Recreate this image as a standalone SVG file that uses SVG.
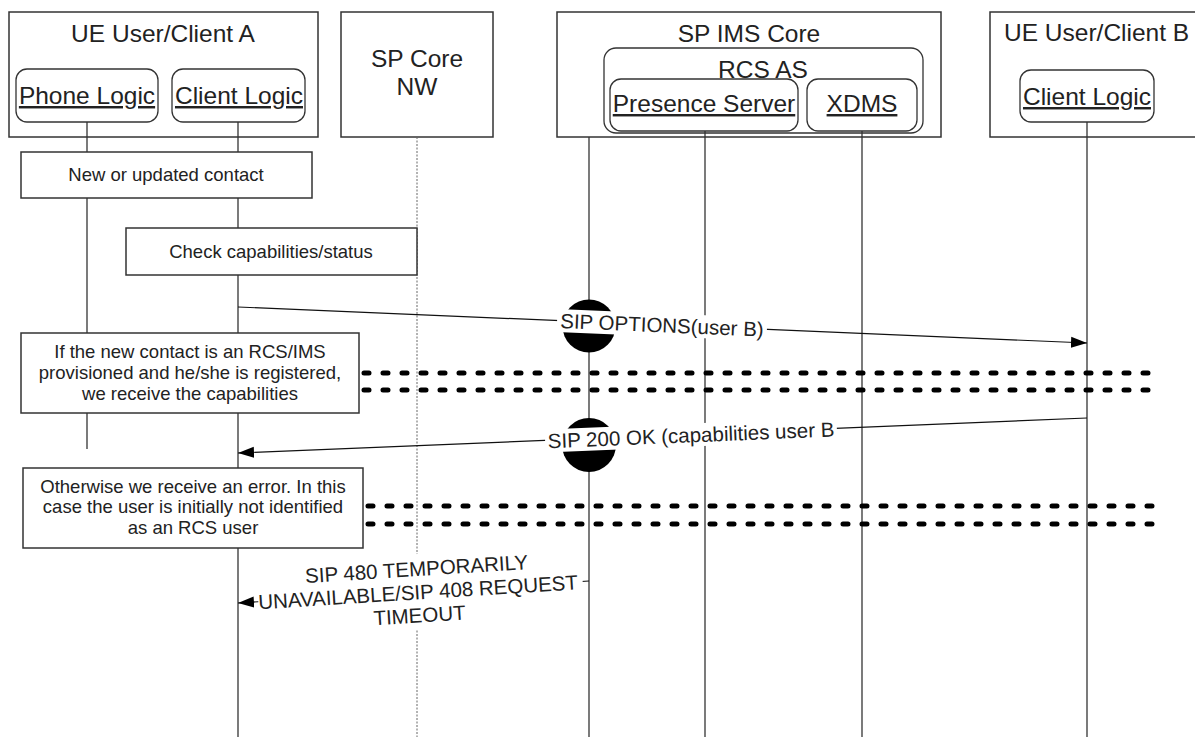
<svg xmlns="http://www.w3.org/2000/svg" width="1195" height="737" viewBox="0 0 1195 737">
<style>
text{font-family:"Liberation Sans",Arial,sans-serif;fill:#222}
.hd{font-size:24.5px;text-anchor:middle}
.ul{text-decoration:underline}
.bx{fill:#fff;stroke:#333;stroke-width:1.5}
.rr{fill:#fff;stroke:#333;stroke-width:1.3}
.ll{stroke:#333;stroke-width:1.3;fill:none}
.dl{stroke:#666;stroke-width:1;stroke-dasharray:2 1.5;fill:none}
.nt{font-size:18.5px;text-anchor:middle}
.hv{stroke:#000;stroke-width:5;stroke-linecap:round;stroke-dasharray:5 14;fill:none}
.msg{stroke:#111;stroke-width:1.2;fill:none}
.lbl{font-size:20.5px;text-anchor:middle}
.bg{fill:#fff;stroke:none}
</style>
<defs>
<marker id="ah" markerUnits="userSpaceOnUse" markerWidth="17" markerHeight="12" refX="16" refY="6" orient="auto"><path d="M0,0.5 L16,6 L0,11.5 z" fill="#000"/></marker>
</defs>

<g id="ue-a">
<rect class="bx" x="9" y="12" width="309" height="125"/>
<text class="hd" x="163" y="42">UE User/Client A</text>
<rect class="rr" x="16" y="69" width="142" height="53" rx="11"/>
<text class="hd ul" x="87" y="104">Phone Logic</text>
<rect class="rr" x="172" y="69" width="133" height="53" rx="11"/>
<text class="hd ul" x="239" y="104">Client Logic</text>
</g>

<g id="sp-core">
<rect class="bx" x="341" y="12" width="152" height="125"/>
<text class="hd" x="417" y="67">SP Core</text>
<text class="hd" x="417" y="95">NW</text>
</g>

<g id="sp-ims-core">
<rect class="bx" x="557" y="12" width="384" height="125"/>
<text class="hd" x="749" y="42">SP IMS Core</text>
<rect class="rr" x="604" y="48" width="319" height="85" rx="12"/>
<text class="hd" x="763" y="78">RCS AS</text>
<rect class="rr" x="610" y="79" width="188" height="52" rx="11"/>
<text class="hd ul" x="704" y="112">Presence Server</text>
<rect class="rr" x="807" y="79" width="110" height="52" rx="11"/>
<text class="hd ul" x="862" y="112">XDMS</text>
</g>

<g id="ue-b">
<rect class="bx" x="990" y="12" width="260" height="125"/>
<text class="hd" x="1004" y="41" style="text-anchor:start">UE User/Client B</text>
<rect class="rr" x="1020" y="70" width="134" height="52" rx="11"/>
<text class="hd ul" x="1087" y="105">Client Logic</text>
</g>

<g id="lifelines">
<line class="ll" x1="87" y1="122" x2="87" y2="449"/>
<line class="ll" x1="238" y1="122" x2="238" y2="737"/>
<line class="dl" x1="417" y1="137" x2="417" y2="737"/>
<line class="ll" x1="589" y1="137" x2="589" y2="737"/>
<line class="ll" x1="705" y1="131" x2="705" y2="737"/>
<line class="ll" x1="862" y1="131" x2="862" y2="737"/>
<line class="ll" x1="1087" y1="122" x2="1087" y2="737"/>
</g>

<g id="activations">
<circle cx="589" cy="326" r="26.5" fill="#000"/>
<circle cx="589" cy="445" r="27" fill="#000"/>
</g>

<g id="note-new-contact">
<rect class="bx" x="21" y="152" width="291" height="46"/>
<text class="nt" x="166" y="181">New or updated contact</text>
</g>
<g id="note-check">
<rect class="bx" x="126" y="228" width="291" height="47"/>
<text class="nt" x="271" y="258">Check capabilities/status</text>
</g>
<g id="note-registered">
<rect class="bx" x="21" y="333" width="338" height="80"/>
<text class="nt" x="190" y="358">If the new contact is an RCS/IMS</text>
<text class="nt" x="190" y="379">provisioned and he/she is registered,</text>
<text class="nt" x="190" y="400">we receive the capabilities</text>
</g>
<g id="note-error">
<rect class="bx" x="23" y="468" width="340" height="80"/>
<text class="nt" x="193" y="493">Otherwise we receive an error. In this</text>
<text class="nt" x="193" y="513">case the user is initially not identified</text>
<text class="nt" x="193" y="534">as an RCS user</text>
</g>

<g id="separators">
<line class="hv" x1="364" y1="373" x2="1160" y2="373"/>
<line class="hv" x1="364" y1="390" x2="1160" y2="390"/>
<line class="hv" x1="368" y1="506" x2="1163" y2="506"/>
<line class="hv" x1="368" y1="524" x2="1163" y2="524"/>
</g>

<g id="connectors">
<line class="msg" x1="238" y1="307" x2="1087" y2="343" marker-end="url(#ah)"/>
<line class="msg" x1="1087" y1="418" x2="238" y2="453" marker-end="url(#ah)"/>
<line class="msg" x1="589" y1="581" x2="238" y2="603" marker-end="url(#ah)"/>
<g transform="translate(662,325) rotate(2.43)">
<rect class="bg" x="-105" y="-11.5" width="210" height="23"/>
<text class="lbl" x="0" y="7.3">SIP OPTIONS(user B)</text>
</g>
<g transform="translate(691,435) rotate(-2.36)">
<rect class="bg" x="-146" y="-11.5" width="292" height="23"/>
<text class="lbl" x="0" y="7.3">SIP 200 OK (capabilities user B</text>
</g>
<g transform="translate(418,592) rotate(-3.6)">
<rect class="bg" x="-160" y="-38" width="325" height="75"/>
<text class="lbl" x="0" y="-16">SIP 480 TEMPORARILY</text>
<text class="lbl" x="0" y="7.3">UNAVAILABLE/SIP 408 REQUEST</text>
<text class="lbl" x="0" y="30.5">TIMEOUT</text>
</g>
</g>
</svg>
